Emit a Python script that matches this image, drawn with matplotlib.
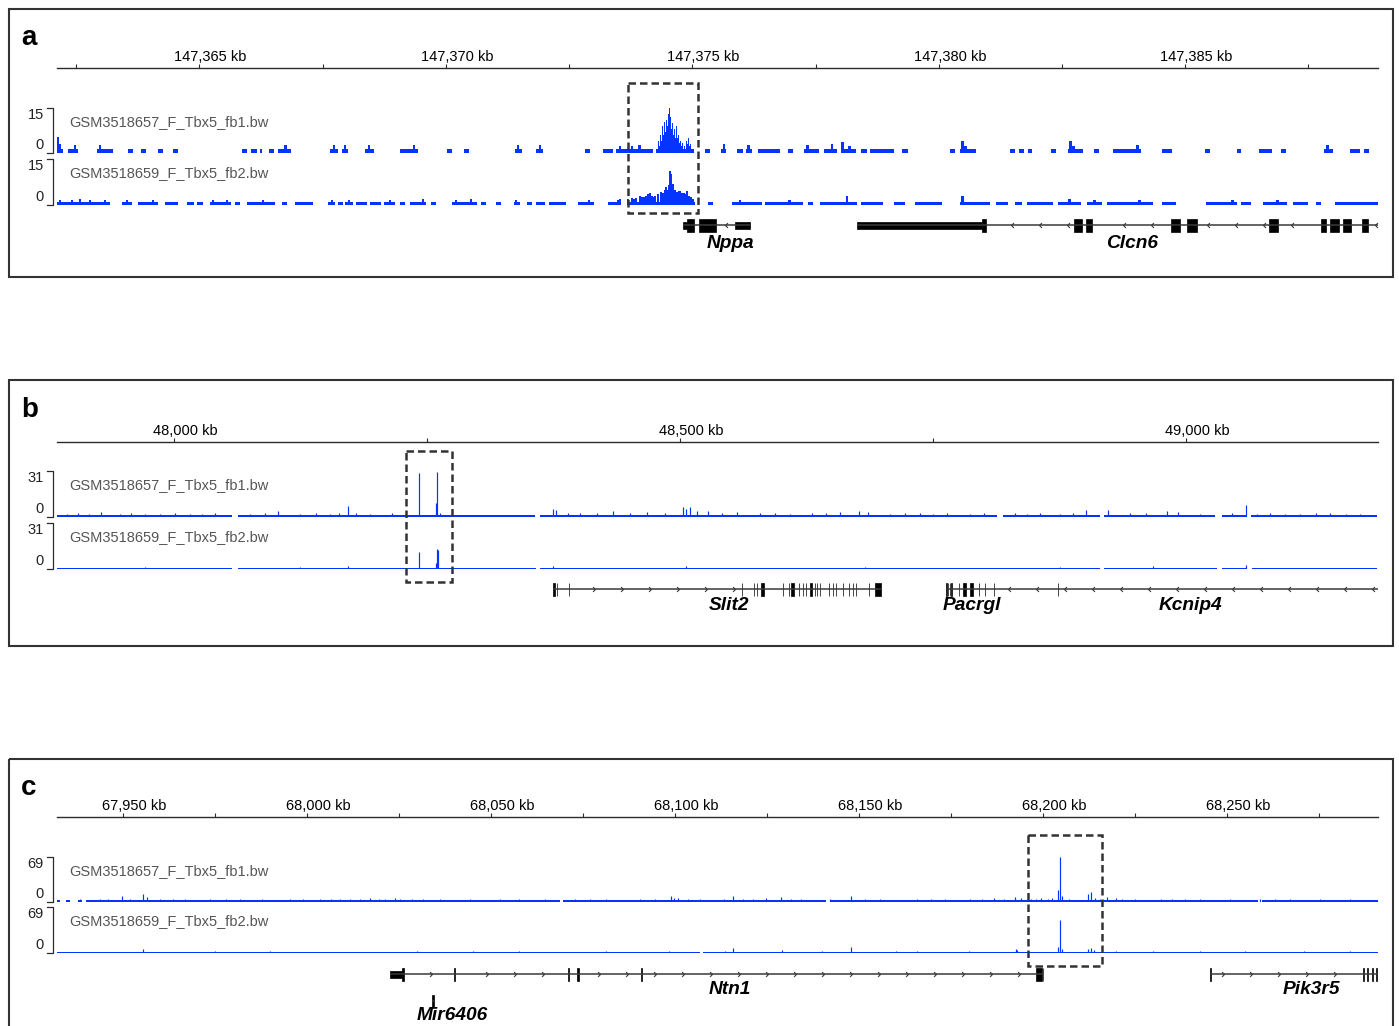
import numpy as np
import matplotlib
matplotlib.use('Agg')
import matplotlib.pyplot as plt
from matplotlib.patches import Rectangle
from matplotlib.transforms import blended_transform_factory

plt.rcParams['font.family'] = ['Liberation Sans', 'DejaVu Sans']

W, H = 1399, 1026
X0, X1 = 57, 1378          # pixel edges of the genomic window
BLUE = '#0533ff'
DARK = '#2b2b2b'
TRACK_NAMES = ['GSM3518657_F_Tbx5_fb1.bw', 'GSM3518659_F_Tbx5_fb2.bw']

# ---------------- panel a : Nppa / Clcn6 (kb, offsets from 147,360 kb) ----------------
A_ORIGIN = 147360.0
A_VIEW = (2.11, 28.91)
A_TICK_STEP, A_LABEL_STEP = 2.5, 5.0
A_RANGE = 15
A_HIGHLIGHT = (13.69, 15.11)

A_FB1_LEVEL = 1.3
A_FB1_SEGMENTS = [
    (2.11, 2.23), (2.33, 2.54), (2.92, 3.25), (3.55, 3.65), (3.81, 3.91), (4.16, 4.26),
    (4.46, 4.56), (5.86, 5.96), (6.04, 6.17), (6.23, 6.27), (6.41, 6.51), (6.59, 6.86),
    (7.65, 7.81), (7.89, 8.01), (8.36, 8.54), (9.07, 9.43), (10.02, 10.12), (10.36, 10.47),
    (11.40, 11.54), (11.82, 11.97), (12.82, 12.92), (13.18, 13.39), (13.45, 14.20),
    (14.26, 15.03), (15.25, 15.35), (15.58, 15.68), (15.90, 16.02), (16.08, 16.20),
    (16.33, 16.77), (16.95, 17.04), (17.26, 17.56), (17.68, 17.93), (18.03, 18.31),
    (18.43, 18.54), (18.60, 19.10), (19.25, 19.37), (20.22, 20.32), (20.42, 20.75),
    (21.44, 21.54), (21.62, 21.72), (21.80, 21.90), (22.27, 22.37), (22.63, 22.92),
    (23.14, 23.24), (23.53, 24.11), (24.52, 24.74), (25.41, 25.51), (26.04, 26.14),
    (26.49, 26.75), (26.95, 27.05), (27.81, 28.00), (28.35, 28.54), (28.62, 28.72),
]
A_FB1_BUMPS = [
    (2.12, 5.2), (2.17, 3.0), (2.47, 2.6), (2.98, 2.6), (6.75, 2.6), (7.73, 2.6), (7.95, 2.6),
    (8.44, 2.6), (9.35, 2.6), (11.46, 2.6), (11.91, 2.6), (13.53, 2.4), (13.77, 2.2), (13.93, 2.8),
    (15.64, 3.0), (16.14, 2.6), (17.34, 2.6), (17.83, 3.0),
    (18.05, 3.6), (18.19, 2.4), (20.48, 4.0), (20.54, 2.4), (22.67, 4.0), (22.73, 2.4),
    (24.03, 2.6), (27.89, 2.6),
]
A_FB1_PEAK = [
    (14.28, 1.5), (14.32, 4.0), (14.34, 2.5), (14.36, 6.0), (14.38, 4.0), (14.40, 9.0),
    (14.42, 6.0), (14.44, 10.5), (14.46, 7.0), (14.48, 11.0), (14.50, 9.0), (14.52, 13.0),
    (14.54, 15.0), (14.56, 12.0), (14.58, 8.0), (14.60, 10.0), (14.62, 6.0), (14.64, 8.0),
    (14.66, 5.0), (14.68, 9.0), (14.70, 5.0), (14.72, 6.0), (14.74, 3.5), (14.76, 4.0),
    (14.78, 2.5), (14.80, 3.5), (14.84, 2.5), (14.88, 4.0), (14.90, 3.0), (14.92, 5.0),
    (14.94, 2.5), (14.96, 3.0), (15.01, 1.5),
]

A_FB2_LEVEL = 0.85
A_FB2_SEGMENTS = [
    (2.11, 3.18), (3.43, 3.63), (3.75, 4.16), (4.30, 4.56), (4.75, 4.89), (4.95, 5.07),
    (5.21, 5.64), (5.72, 5.82), (5.96, 6.53), (6.67, 6.77), (6.94, 7.30), (7.61, 7.75),
    (7.81, 7.91), (7.95, 8.11), (8.17, 8.40), (8.46, 8.68), (8.74, 8.96), (9.07, 9.17),
    (9.27, 9.59), (9.69, 9.80), (10.12, 10.63), (10.71, 10.81), (11.01, 11.11), (11.38, 11.50),
    (11.64, 11.74), (11.82, 12.01), (12.09, 12.43), (12.68, 13.00), (13.28, 13.53),
    (13.69, 15.05), (15.31, 15.41), (15.80, 16.41), (16.47, 17.24), (17.34, 17.44),
    (17.58, 18.33), (18.43, 18.86), (19.10, 19.31), (19.51, 20.06), (20.42, 21.03),
    (21.17, 21.40), (21.54, 21.68), (21.78, 22.31), (22.41, 22.88), (23.00, 23.32),
    (23.42, 24.34), (24.52, 24.82), (25.43, 26.04), (26.14, 26.34), (26.57, 27.07),
    (27.18, 27.48), (27.66, 27.76), (28.03, 28.90),
]
A_FB2_BARS = [
    (2.17, 1.5), (2.41, 1.5), (2.58, 2.0), (2.78, 1.5), (3.08, 1.5), (3.53, 1.5), (4.06, 1.5),
    (5.27, 1.5), (5.56, 1.5), (6.29, 1.5), (7.69, 1.5), (8.03, 1.5), (8.86, 1.5), (9.53, 2.0),
    (10.20, 1.5), (10.51, 2.0), (11.42, 1.5), (12.90, 1.5), (13.49, 1.5), (13.53, 2.0),
    (13.69, 1.8), (13.77, 2.3), (13.81, 2.0), (13.85, 2.3), (13.93, 3.0), (13.97, 2.5),
    (14.01, 2.7), (14.06, 3.0), (14.10, 3.5), (14.14, 4.0), (14.18, 3.0), (14.20, 2.5),
    (14.24, 3.0), (14.30, 3.5), (14.36, 4.3), (14.40, 3.8), (14.44, 5.0), (14.46, 6.0),
    (14.50, 5.0), (14.52, 6.5), (14.54, 11.0), (14.56, 10.0), (14.60, 7.0), (14.64, 5.0),
    (14.68, 4.0), (14.70, 4.3), (14.74, 4.5), (14.78, 3.8), (14.83, 4.0), (14.87, 3.5),
    (14.89, 4.5), (14.93, 3.0), (14.97, 2.7), (15.01, 2.0), (15.96, 1.5), (16.97, 1.5),
    (18.13, 3.0), (20.48, 3.0), (22.65, 2.0), (23.16, 1.5), (24.07, 1.5), (25.96, 1.5),
    (26.87, 1.5),
]

NPPA_SPAN = (14.80, 16.16)
NPPA_UTR = [(14.80, 14.90), (15.86, 16.16)]
NPPA_EXONS = [(14.90, 15.04), (15.13, 15.47)]
CLCN6_SPAN = (18.33, 29.50)
CLCN6_UTR = [(18.33, 20.87)]
CLCN6_EXONS = [(20.87, 20.95), (22.75, 22.90), (22.98, 23.10), (24.72, 24.90), (25.04, 25.23),
               (26.69, 26.89), (27.76, 27.86), (27.94, 28.11), (28.21, 28.37), (28.58, 28.70)]

# ---------------- panel b : Slit2 / Pacrgl / Kcnip4 (kb) ----------------
B_VIEW = (47884.4, 49189.6)
B_TICK_STEP, B_LABEL_STEP = 250, 500
B_RANGE = 31
B_HIGHLIGHT = (48229.2, 48274.7)

B_FB1_LEVEL = 1.5
B_FB1_SEGMENTS = [(47884.4, 48057.3), (48063.2, 48356.7), (48361.6, 48813.1), (48819.1, 48914.9),
                  (48918.9, 49028.5), (49035.4, 49060.1), (49064.1, 49188.6)]
B_FB1_SPIKES = [
    (47894.3, 2.0), (47905.0, 2.4), (47916.0, 2.0), (47927.9, 3.4), (47946.7, 1.8), (47958.0, 2.4),
    (47971.4, 2.2), (47986.2, 2.0), (48001.0, 2.4), (48015.8, 1.8), (48028.0, 2.2), (48040.5, 2.4),
    (48075.1, 2.0), (48090.0, 2.4), (48102.8, 4.0), (48124.5, 2.2), (48140.0, 2.4), (48154.1, 2.0),
    (48163.0, 3.0), (48171.9, 7.5), (48180.0, 2.6), (48193.7, 2.2), (48215.4, 2.6),
    (48242.1, 29.7), (48258.9, 9.5), (48259.9, 30.5), (48262.8, 3.0),
    (48374.5, 5.4), (48377.4, 4.7), (48389.0, 2.6), (48401.1, 2.5), (48418.0, 2.4), (48433.7, 4.0),
    (48450.5, 2.4), (48467.3, 3.4), (48485.1, 2.4), (48502.9, 7.0), (48505.9, 5.4), (48509.8, 7.0),
    (48516.7, 4.0), (48527.6, 4.0), (48541.0, 2.4), (48556.3, 3.4), (48579.0, 2.5), (48594.0, 2.4),
    (48608.6, 2.2), (48630.4, 2.4), (48644.0, 2.4), (48658.0, 3.4), (48676.8, 4.0), (48685.7, 3.4),
    (48707.4, 2.2), (48722.0, 2.4), (48737.1, 2.5), (48750.0, 2.2), (48763.7, 2.4), (48786.5, 2.2),
    (48800.0, 2.4), (48830.9, 2.4), (48843.0, 2.2), (48855.6, 2.6), (48875.4, 2.2), (48888.0, 2.4),
    (48901.1, 4.5), (48922.8, 4.7), (48944.5, 2.4), (48960.0, 2.4), (48981.1, 4.0), (48991.9, 3.4),
    (49013.7, 2.2), (49045.0, 2.4), (49059.1, 8.0), (49070.0, 2.2), (49082.9, 2.4), (49098.0, 2.2),
    (49112.5, 2.2), (49128.0, 2.4), (49142.1, 2.6), (49158.0, 2.2), (49171.8, 2.2),
]
B_FB2_LEVEL = 1.0
B_FB2_SEGMENTS = [(47884.4, 48057.3), (48063.2, 48357.7), (48361.6, 48914.9), (48918.9, 49030.5),
                  (49035.4, 49059.1), (49065.1, 49188.6)]
B_FB2_SPIKES = [
    (47971.4, 1.6), (48124.5, 1.6), (48171.9, 1.8), (48242.1, 11.5), (48258.9, 4.0),
    (48259.9, 13.5), (48260.9, 13.0), (48374.5, 2.0), (48505.9, 2.2), (48682.7, 1.6),
    (48875.4, 1.6), (48967.3, 1.8), (49059.1, 2.7),
]

SLIT2_SPAN = (48374.5, 48698.5)
SLIT2_EXONS = [
    (48374.5, 48376.4), (48378.2, 48378.6), (48390.1, 48390.5), (48561.0, 48561.4),
    (48572.8, 48573.2), (48575.8, 48576.2), (48580.0, 48582.9), (48601.5, 48601.9),
    (48607.4, 48607.8), (48609.6, 48612.6), (48617.3, 48617.7), (48621.3, 48621.7),
    (48624.2, 48624.6), (48628.4, 48630.4), (48633.1, 48633.5), (48635.3, 48635.7),
    (48637.9, 48638.3), (48647.0, 48647.4), (48650.9, 48651.3), (48653.9, 48654.3),
    (48660.8, 48661.2), (48666.7, 48667.1), (48670.7, 48671.1), (48673.6, 48674.0),
    (48686.5, 48686.9), (48692.6, 48698.5),
]
PACRGL_SPAN = (48763.4, 48810.2)
PACRGL_EXONS = [
    (48763.2, 48763.6), (48764.8, 48765.2), (48766.5, 48766.9), (48768.2, 48768.6),
    (48775.4, 48775.8), (48779.5, 48782.5), (48786.5, 48789.4), (48795.2, 48795.6),
    (48801.1, 48801.5), (48810.0, 48810.4),
]
KCNIP4_SPAN = (48810.2, 49400.0)
KCNIP4_EXONS = [(48873.2, 48873.6)]

# ---------------- panel c : Ntn1 / Pik3r5 (kb) ----------------
C_VIEW = (67932.1, 68291.0)
C_TICK_STEP, C_LABEL_STEP = 25, 50
C_RANGE = 69
C_HIGHLIGHT = (68195.9, 68216.0)

C_FB1_LEVEL = 2.8
C_FB1_SEGMENTS = [(67932.1, 67932.9), (67934.5, 67935.6), (67937.8, 67938.9), (67940.0, 68068.8),
                  (68069.6, 68141.0), (68142.1, 68258.4), (68259.5, 68291.0)]
C_FB1_SPIKES = [
    (67938.3, 4.5), (67943.8, 4.0), (67946.0, 4.0), (67949.7, 9.0), (67951.9, 4.5), (67955.5, 13.0),
    (67956.5, 7.0), (67960.1, 4.5), (67963.5, 4.0), (67966.9, 4.0), (67970.0, 3.5), (67973.7, 4.5),
    (67978.0, 4.0), (67981.8, 4.0), (67984.5, 3.5), (67987.8, 4.5), (67992.0, 3.5), (67995.4, 4.0),
    (67999.0, 4.0), (68003.5, 4.5), (68006.5, 4.0), (68009.0, 4.5), (68011.7, 4.0), (68014.5, 4.5),
    (68017.1, 6.0), (68019.5, 5.0), (68021.2, 4.5), (68024.0, 5.5), (68025.3, 4.5), (68028.5, 4.5),
    (68031.5, 4.0), (68036.1, 4.0), (68040.0, 3.5), (68044.3, 4.0), (68048.0, 3.5), (68052.5, 4.5),
    (68057.6, 4.0), (68061.0, 3.5), (68064.7, 4.0), (68068.0, 3.5), (68072.8, 4.0), (68077.0, 4.0),
    (68081.3, 4.5), (68086.0, 3.5), (68090.5, 4.5), (68094.5, 4.0), (68098.9, 9.0), (68099.7, 6.0),
    (68100.8, 6.0), (68103.5, 4.0), (68106.8, 4.0), (68110.0, 3.5), (68113.3, 4.5), (68115.8, 9.0),
    (68118.5, 4.0), (68121.2, 4.5), (68124.7, 6.0), (68128.8, 7.7), (68131.5, 4.0), (68134.2, 4.5),
    (68138.0, 3.5), (68142.1, 4.0), (68147.8, 9.0), (68151.5, 4.0), (68155.7, 4.5), (68160.5, 3.5),
    (68165.7, 5.0), (68169.5, 4.0), (68173.4, 4.5), (68177.0, 3.5), (68180.1, 4.0), (68183.5, 4.0),
    (68186.7, 6.0), (68189.5, 5.0), (68192.4, 8.0), (68194.0, 6.5), (68196.7, 5.0), (68198.1, 5.0),
    (68199.4, 6.0), (68201.3, 4.5), (68202.5, 5.5), (68204.0, 18.0), (68204.6, 69.0), (68205.1, 9.0),
    (68207.0, 4.0), (68212.2, 12.0), (68213.0, 15.0), (68214.1, 6.0), (68215.5, 5.0), (68217.5, 7.5),
    (68219.8, 6.0), (68221.5, 4.5), (68225.0, 4.0), (68228.0, 3.5), (68232.0, 4.5), (68235.0, 4.0),
    (68238.6, 4.0), (68242.6, 4.0), (68246.5, 3.5), (68250.8, 4.0), (68254.5, 3.5), (68258.9, 4.0),
    (68263.0, 4.0), (68267.1, 4.0), (68271.0, 3.5), (68275.2, 4.0), (68279.0, 3.5), (68283.4, 4.0),
    (68287.0, 3.5),
]
C_FB2_LEVEL = 1.6
C_FB2_SEGMENTS = [(67932.1, 68106.8), (68107.6, 68291.0)]
C_FB2_SPIKES = [
    (67955.5, 6.0), (67975.0, 2.5), (67990.0, 2.5), (68030.0, 2.5), (68045.0, 2.5), (68057.6, 3.0),
    (68081.3, 3.0), (68098.4, 3.0), (68113.6, 3.0), (68115.8, 7.0), (68129.1, 4.5), (68140.0, 2.5),
    (68147.8, 9.0), (68160.0, 2.5), (68165.7, 3.0), (68180.0, 2.5), (68192.6, 6.0), (68192.9, 4.0),
    (68204.0, 9.0), (68204.6, 50.0), (68205.1, 6.0), (68212.2, 6.0), (68213.0, 7.5),
    (68213.8, 4.5), (68219.8, 3.0), (68230.0, 2.5), (68242.6, 3.0), (68255.0, 2.5),
    (68270.9, 3.0), (68283.4, 3.0),
]

NTN1_SPAN = (68022.6, 68200.0)
NTN1_UTR = [(68022.6, 68025.8)]
NTN1_EXONS = [(68025.9, 68026.3), (68039.9, 68040.2), (68070.8, 68071.1), (68073.5, 68073.8),
              (68090.7, 68091.0), (68198.1, 68199.7), (68199.9, 68200.1)]
MIR6406_SPAN = (68034.1, 68034.4)
MIR6406_EXONS = [(68034.1, 68034.4)]
PIK3R5_SPAN = (68245.4, 68300.0)
PIK3R5_EXONS = [(68245.3, 68245.6), (68286.8, 68287.1), (68287.9, 68288.2),
                (68289.3, 68289.6), (68290.4, 68290.7)]

CHEVRON = {'+': [(-1, 1), (0, 0), (-1, -1)], '-': [(1, 1), (0, 0), (1, -1)]}

fig = plt.figure(figsize=(W / 100, H / 100), dpi=100)
over = fig.add_axes([0, 0, 1, 1], zorder=5)
over.set_xlim(0, W)
over.set_ylim(H, 0)
over.axis('off')


def px_axes(x0, y0, x1, y1):
    return fig.add_axes([x0 / W, 1 - y1 / H, (x1 - x0) / W, (y1 - y0) / H])


def shift(pairs, origin):
    return [(a + origin, b + origin) for a, b in pairs]


def draw_ruler(y, lo, hi, step, label_step):
    ax = px_axes(X0, y - 6, X1, y)
    ax.set_xlim(lo, hi)
    ax.set_ylim(0, 1)
    ax.patch.set_visible(False)
    for side in ('top', 'left', 'right'):
        ax.spines[side].set_visible(False)
    ax.spines['bottom'].set_color(DARK)
    ax.spines['bottom'].set_linewidth(1.0)
    ticks = np.arange(np.ceil(lo / step) * step, hi, step)
    ax.set_xticks(ticks)
    ax.set_yticks([])
    ax.tick_params(axis='x', direction='in', length=3, width=0.8, color=DARK, labelbottom=False)
    for t in ticks:
        if np.isclose(t / label_step, round(t / label_step)):
            ax.annotate(f'{t:,.0f} kb', xy=(t, 0), xycoords=('data', 'axes fraction'),
                        xytext=(8, 8), textcoords='offset points',
                        ha='center', va='center', fontsize=10.5)


def draw_track(top, base, lo, hi, vmax, segments, level, bar_groups, name):
    ax = px_axes(X0, top, X1, base)
    ax.set_xlim(lo, hi)
    ax.set_ylim(0, vmax)
    ax.axis('off')
    ax.broken_barh([(s, e - s) for s, e in segments], (0, level), facecolors=BLUE, linewidth=0)
    for bars, bar_width in bar_groups:
        xs = [p for p, v in bars]
        vs = [v for p, v in bars]
        if bar_width:
            ax.bar(xs, vs, width=bar_width, color=BLUE, linewidth=0)
        else:
            ax.vlines(xs, 0, vs, color=BLUE, linewidth=0.85)
    over.plot([47, 53, 53, 47], [top, top, base, base], color=DARK, lw=0.9)
    over.text(44, top + 7, f'{vmax}', ha='right', va='center', fontsize=10.5, color='#222222')
    over.text(44, base - 8, '0', ha='right', va='center', fontsize=10.5, color='#222222')
    over.text(69, top + 14, name, ha='left', va='center', fontsize=10.5, color='#555555')
    return ax


def draw_genes(y, lo, hi, genes, label_dy):
    ax = px_axes(X0, y - 25, X1, y + 50)
    ax.set_xlim(lo, hi)
    ax.set_ylim(y + 50, y - 25)
    ax.axis('off')
    spacing = 28 * (hi - lo) / (X1 - X0)
    for name, strand, (gs, ge), utrs, exons, row, label_dx in genes:
        gy = y + row
        s, e = max(gs, lo), min(ge, hi)
        ax.plot([s, e], [gy, gy], color='#3a3a3a', lw=1.1, solid_capstyle='butt')
        for a, b in utrs:
            ax.add_patch(Rectangle((a, gy - 3.5), b - a, 7, fc='black', ec='black', lw=0.5))
        for a, b in exons:
            ax.add_patch(Rectangle((a, gy - 6.5), b - a, 13, fc='black', ec='black', lw=0.5))
        blocks = utrs + exons
        marks = [m for m in np.arange(s + spacing / 2, e, spacing)
                 if not any(a - spacing * 0.2 < m < b + spacing * 0.2 for a, b in blocks)]
        ax.plot(marks, [gy] * len(marks), ls='none', marker=CHEVRON[strand], ms=3.5,
                mfc='none', mec='#3a3a3a', mew=0.8)
        ax.annotate(name, xy=((s + e) / 2, gy + label_dy), xytext=(label_dx * 0.72, 0),
                    textcoords='offset points', ha='center', va='center',
                    fontsize=13.8, fontweight='bold', fontstyle='italic')


def draw_panel(letter, frame, letter_y, ruler_y, track_rows, gene_y, label_dy, box_y,
               view, steps, vmax, tracks, genes, highlight):
    lo, hi = view
    over.add_patch(Rectangle((frame[0], frame[1]), frame[2] - frame[0], frame[3] - frame[1],
                             fill=False, ec='#333333', lw=1.5))
    over.text(21, letter_y, letter, fontsize=20, fontweight='bold', va='baseline', ha='left')
    draw_ruler(ruler_y, lo, hi, *steps)
    track_axes = []
    for (top, base), name, (segs, level, groups) in zip(track_rows, TRACK_NAMES, tracks):
        track_axes.append(draw_track(top, base, lo, hi, vmax, segs, level, groups, name))
    draw_genes(gene_y, lo, hi, genes, label_dy)
    tr = blended_transform_factory(track_axes[0].transData, over.transData)
    over.add_patch(Rectangle((highlight[0], box_y[0]), highlight[1] - highlight[0],
                             box_y[1] - box_y[0], transform=tr, fill=False, ec='#333333',
                             lw=1.8, ls=(0, (3, 1.6))))


def shifted_bars(bars, origin):
    return [(p + origin, v) for p, v in bars]


# panel a
ao = A_ORIGIN
draw_panel(
    'a', (9, 9, 1393, 277), 45, 68, [(108, 153), (159, 205)], 225, 18, (83, 213),
    (A_VIEW[0] + ao, A_VIEW[1] + ao), (A_TICK_STEP, A_LABEL_STEP), A_RANGE,
    [(shift(A_FB1_SEGMENTS, ao), A_FB1_LEVEL,
      [(shifted_bars(A_FB1_BUMPS, ao), 0.05), (shifted_bars(A_FB1_PEAK, ao), 0.024)]),
     (shift(A_FB2_SEGMENTS, ao), A_FB2_LEVEL, [(shifted_bars(A_FB2_BARS, ao), 0.045)])],
    [('Nppa', '-', tuple(np.add(NPPA_SPAN, ao)), shift(NPPA_UTR, ao), shift(NPPA_EXONS, ao), 0, 14),
     ('Clcn6', '-', tuple(np.add(CLCN6_SPAN, ao)), shift(CLCN6_UTR, ao), shift(CLCN6_EXONS, ao), 0, 15)],
    (A_HIGHLIGHT[0] + ao, A_HIGHLIGHT[1] + ao),
)

# panel b
draw_panel(
    'b', (9, 380, 1393, 646), 417, 442, [(471, 517), (523, 569)], 589, 16, (451, 582),
    B_VIEW, (B_TICK_STEP, B_LABEL_STEP), B_RANGE,
    [(B_FB1_SEGMENTS, B_FB1_LEVEL, [(B_FB1_SPIKES, None)]),
     (B_FB2_SEGMENTS, B_FB2_LEVEL, [(B_FB2_SPIKES, None)])],
    [('Slit2', '+', SLIT2_SPAN, [], SLIT2_EXONS, 0, 12),
     ('Pacrgl', '+', PACRGL_SPAN, [], PACRGL_EXONS, 0, 2),
     ('Kcnip4', '-', KCNIP4_SPAN, [], KCNIP4_EXONS, 0, 4)],
    B_HIGHLIGHT,
)

# panel c
draw_panel(
    'c', (9, 759, 1393, 1040), 795, 817, [(857, 902), (907, 953)], 974, 15, (835, 966),
    C_VIEW, (C_TICK_STEP, C_LABEL_STEP), C_RANGE,
    [(C_FB1_SEGMENTS, C_FB1_LEVEL, [(C_FB1_SPIKES, None)]),
     (C_FB2_SEGMENTS, C_FB2_LEVEL, [(C_FB2_SPIKES, None)])],
    [('Ntn1', '+', NTN1_SPAN, NTN1_UTR, NTN1_EXONS, 0, 13),
     ('Mir6406', '+', MIR6406_SPAN, [], MIR6406_EXONS, 27, 19),
     ('Pik3r5', '+', PIK3R5_SPAN, [], PIK3R5_EXONS, 0, 17)],
    C_HIGHLIGHT,
)

fig.savefig('out.png', dpi=100)
